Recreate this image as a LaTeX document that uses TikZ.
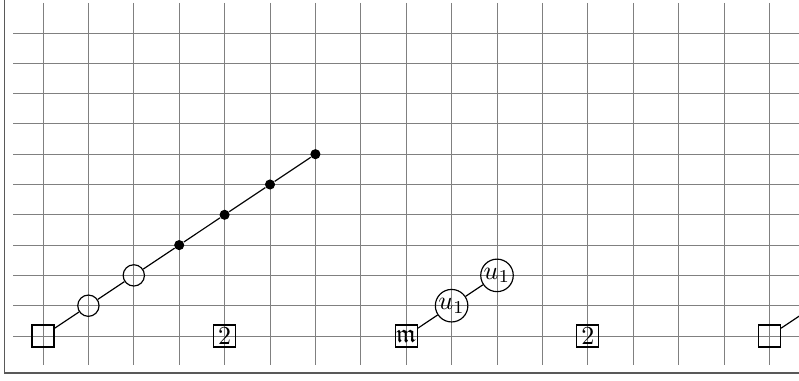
\documentclass[tikz,border=0pt]{standalone}
\usepackage{amssymb}
\begin{document}
\begin{tikzpicture}[x=0.385pt,y=-0.385pt,
  gridline/.style={draw=black!50,line width=0.35pt},
  frameline/.style={draw=black!65,line width=0.5pt},
  sqbox/.style={draw,line width=0.45pt,rectangle,minimum size=8.5pt,inner sep=0pt},
  emptyc/.style={draw,line width=0.45pt,circle,minimum size=8.2pt,inner sep=0pt},
  labc/.style={draw,line width=0.45pt,circle,inner sep=0.3pt},
  dotn/.style={fill=black,circle,minimum size=3.9pt,inner sep=0pt},
  edge/.style={draw,line width=0.45pt}]
\useasboundingbox (0,0) rectangle (799,381);
\clip (0,0) rectangle (799,381);
% grid
\foreach \j in {0,...,10} {
  \draw[gridline] (13,{336-30.3*\j}) -- (810,{336-30.3*\j});
}
\foreach \i in {0,...,16} {
  \draw[gridline] ({43+45.4*\i},3) -- ({43+45.4*\i},365);
}
% frame
\draw[frameline] (4.5,-5) -- (4.5,373) -- (810,373);
% first group
\node[sqbox] (s1) at (43,336) {};
\node[emptyc] (c1) at (88.4,305.7) {};
\node[emptyc] (c2) at (133.8,275.4) {};
\node[dotn] (d1) at (179.2,245.1) {};
\node[dotn] (d2) at (224.6,214.8) {};
\node[dotn] (d3) at (270,184.5) {};
\node[dotn] (d4) at (315.4,154.2) {};
\node[sqbox] (t1) at (224.6,336) {2};
\draw[edge] (s1) -- (c1) -- (c2) -- (d1) -- (d2) -- (d3) -- (d4);
% second group
\node[sqbox] (m) at (406.2,336) {$\mathfrak{m}$};
\node[labc] (u1) at (451.6,305.7) {$u_1$};
\node[labc] (u2) at (497,275.4) {$u_1$};
\node[sqbox] (t2) at (587.8,336) {2};
\draw[edge] (m) -- (u1) -- (u2);
% third group (clipped)
\node[sqbox] (s2) at (769.4,336) {};
\coordinate (out) at (814.8,305.7);
\draw[edge] (s2) -- (out);
\end{tikzpicture}
\end{document}
